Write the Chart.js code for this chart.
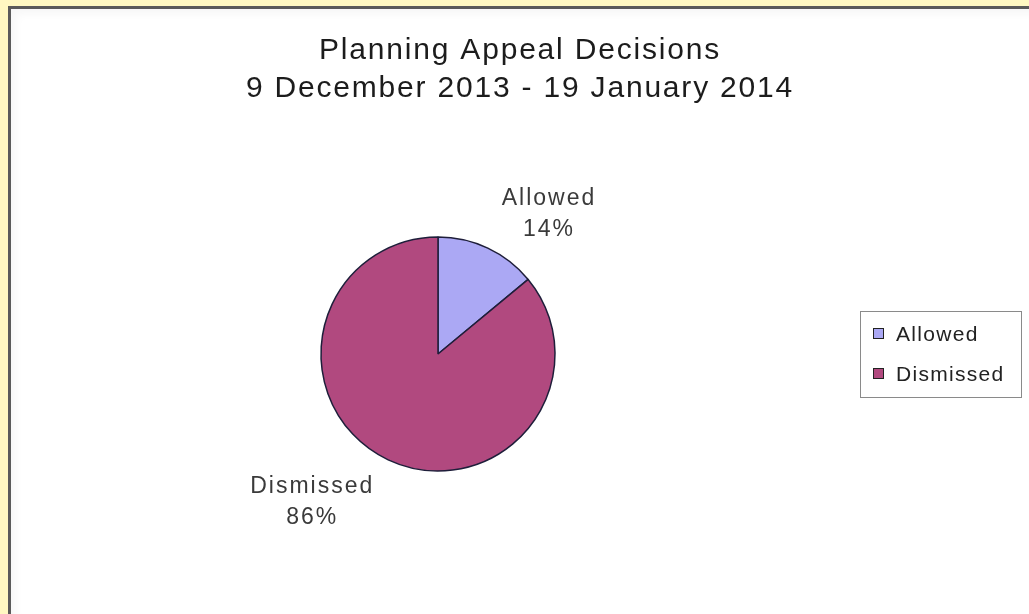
<!DOCTYPE html>
<html>
<head>
<meta charset="utf-8">
<script src="https://cdn.jsdelivr.net/npm/chart.js@4.4.1/dist/chart.umd.min.js"></script>
<style>
  html, body { margin: 0; padding: 0; background: #fff8c2; overflow: hidden; }
  #frame {
    position: absolute; left: 8px; top: 6px; width: 1021px; height: 608px;
    border-left: 3px solid #5a5a5a; border-top: 3px solid #5a5a5a;
    background: #fff; box-shadow: inset 5px 5px 8px rgba(0, 0, 0, 0.035);
  }
  #wrap { position: relative; width: 1018px; height: 605px; }
</style>
</head>
<body>
<div id="frame"><div id="wrap"><canvas id="pieChart"></canvas></div></div>
<script>
const chartTitle = ['Planning Appeal Decisions', '9 December 2013 - 19 January 2014'];
const categories = ['Allowed', 'Dismissed'];
const percentages = [14, 86];
const sliceColors = ['#aba8f4', '#b1497f'];

const FONT = '"Liberation Sans", Arial, sans-serif';
const LEGEND_SPACE = 164; // espaço reservado à direita para a legenda

// reserva espaço da legenda só para a pizza (o título continua centralizado no canvas)
const reserveLegend = {
  id: 'reserveLegend',
  afterLayout(chart) {
    const a = chart.chartArea;
    a.right -= LEGEND_SPACE;
    a.width = a.right - a.left;
  }
};

// espaçamento do título (o original tem letras bem largas)
const titleSpacing = {
  id: 'titleSpacing',
  beforeDraw(chart) {
    chart.ctx.letterSpacing = '1.8px';
  }
};

// rótulos fora da pizza: nome + percentual
const outsideLabels = {
  id: 'outsideLabels',
  afterDatasetsDraw(chart) {
    const ctx = chart.ctx;
    const meta = chart.getDatasetMeta(0);
    const values = chart.data.datasets[0].data;
    const total = values.reduce((a, b) => a + b, 0);

    ctx.save();
    ctx.font = '23px ' + FONT;
    ctx.letterSpacing = '2px';
    ctx.fillStyle = '#3a3a3a';
    ctx.textAlign = 'center';
    ctx.textBaseline = 'middle';

    meta.data.forEach((arc, i) => {
      const { x, y, startAngle, endAngle, outerRadius } =
        arc.getProps(['x', 'y', 'startAngle', 'endAngle', 'outerRadius'], true);
      const mid = (startAngle + endAngle) / 2;
      const dist = outerRadius + 42;
      const ax = x + Math.cos(mid) * dist;
      const ay = y + Math.sin(mid) * dist + 4;
      const lines = [chart.data.labels[i], Math.round(values[i] / total * 100) + '%'];
      const w = Math.max(...lines.map(t => ctx.measureText(t).width));
      const side = Math.cos(mid) >= 0 ? 1 : -1;
      const cx = ax + side * (w / 2 - 4);
      const lh = 31;
      lines.forEach((t, k) => {
        ctx.fillText(t, cx, ay + (k - (lines.length - 1) / 2) * lh);
      });
    });
    ctx.restore();
  }
};

// legenda com moldura, à direita
const boxLegend = {
  id: 'boxLegend',
  afterDraw(chart) {
    const ctx = chart.ctx;
    const area = chart.chartArea;
    const ds = chart.data.datasets[0];
    const boxW = 161, boxH = 86;
    const left = chart.width - 8 - boxW;
    const top = Math.round((area.top + area.bottom) / 2 - boxH / 2);
    const rowGap = 40;

    ctx.save();
    ctx.strokeStyle = '#8a8a8a';
    ctx.lineWidth = 1;
    ctx.strokeRect(left + 0.5, top + 0.5, boxW, boxH);

    ctx.font = '21px ' + FONT;
    ctx.letterSpacing = '1.3px';
    ctx.textAlign = 'left';
    ctx.textBaseline = 'middle';

    chart.data.labels.forEach((label, i) => {
      const cy = top + boxH / 2 + (i - (chart.data.labels.length - 1) / 2) * rowGap;
      ctx.fillStyle = ds.backgroundColor[i];
      ctx.fillRect(left + 13.5, cy - 5.5, 10, 10);
      ctx.strokeStyle = '#222';
      ctx.strokeRect(left + 13.5, cy - 5.5, 10, 10);
      ctx.fillStyle = '#222';
      ctx.fillText(label, left + 36, cy + 1);
    });
    ctx.restore();
  }
};

new Chart(document.getElementById('pieChart'), {
  type: 'pie',
  data: {
    labels: categories,
    datasets: [{
      data: percentages,
      backgroundColor: sliceColors,
      borderColor: '#1e1e3a',
      borderWidth: 1.5,
      radius: 117
    }]
  },
  options: {
    responsive: true,
    maintainAspectRatio: false,
    animation: false,
    layout: { padding: { left: 0, right: 0, top: 0, bottom: 23 } },
    plugins: {
      legend: { display: false },
      tooltip: { enabled: false },
      title: {
        display: true,
        text: chartTitle,
        color: '#1c1c1c',
        font: { family: FONT, size: 30, weight: 'normal', lineHeight: 1.267 },
        padding: { top: 23, bottom: 9 }
      }
    }
  },
  plugins: [reserveLegend, titleSpacing, outsideLabels, boxLegend]
});
</script>
</body>
</html>
